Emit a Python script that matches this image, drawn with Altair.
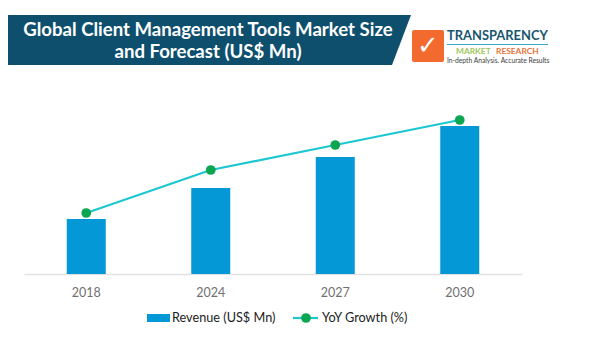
import altair as alt
import pandas as pd

years = ["2018", "2024", "2027", "2030"]
revenue = [55, 86, 117, 148]
growth = [61, 104, 129, 154]
legend_bar = "Revenue (US$ Mn)"
legend_line = "YoY Growth (%)"
title_lines = ["Global Client Management Tools Market Size", "and Forecast (US$ Mn)"]

W, H = 589, 340
df = pd.DataFrame({"year": years, "revenue": revenue, "growth": growth})

xs = alt.Scale(domain=years, range=[16, 514], paddingInner=0, paddingOuter=0)
ys = alt.Scale(domain=[0, 266], range=[266, 0])
x_enc = alt.X("year:N", scale=xs, sort=None, title=None,
              axis=alt.Axis(labelAngle=0, offset=-74, ticks=False, grid=False, domainColor="#E2E2E2",
                            domainWidth=1.5, labelColor="#707070", labelFont="Lato", labelFontSize=12.5,
                            labelPadding=12))
y_enc = lambda f: alt.Y(f, scale=ys, axis=None, title=None)

base = alt.Chart(df)
bars = base.mark_bar(size=39, color="#0499D6").encode(x=x_enc, y=y_enc("revenue:Q"))
line = base.mark_line(color="#1CC7CF", strokeWidth=2.2).encode(x=x_enc, y=y_enc("growth:Q"))
dots = base.mark_circle(color="#0DA650", size=95, opacity=1).encode(x=x_enc, y=y_enc("growth:Q"))
plot = alt.layer(bars, line, dots)

one = alt.Data(values=[{}])
def rect(x, y, x2, y2, color, **kw):
    return alt.Chart(one).mark_rect(color=color, **kw).encode(
        x=alt.value(x), x2=alt.value(x2), y=alt.value(y), y2=alt.value(y2))
def text(x, y, s, size, color, align="left", weight="normal", font="Lato", **kw):
    return alt.Chart(one).mark_text(fontSize=size, color=color, align=align, baseline="middle",
                                    fontWeight=weight, font=font, **kw).encode(
        x=alt.value(x), y=alt.value(y), text=alt.value(s))

# banner
px = alt.Scale(domain=[0, W], range=[0, W])
py = alt.Scale(domain=[0, H], range=[0, H])
banner = alt.Chart(pd.DataFrame({"x": [0, 0], "x2": [403, 384], "y": [7, 57]})).mark_area(
    orient="horizontal", color="#0E4F6E").encode(
    x=alt.X("x:Q", scale=px, axis=None), x2="x2:Q",
    y=alt.Y("y:Q", scale=py, axis=None))
t1 = text(200, 22, title_lines[0], 18.6, "white", "center", "bold")
t2 = text(200, 44, title_lines[1], 18.6, "white", "center", "bold")

# logo
logo = alt.layer(
    rect(404, 22, 436, 54, "#F26A2E", cornerRadius=2),
    text(420, 38, "✓", 26, "white", "center", font="DejaVu Sans"),
    text(439, 28, "TRANSPARENCY", 12.9, "#17566E", "left", "bold"),
    rect(439, 36, 540, 37, "#3BA7C9"),
    text(448, 43, "MARKET", 8.4, "#9CC75A", "left", "bold"),
    text(488, 43, "RESEARCH", 8.4, "#E8743B", "left", "bold"),
    text(439, 53, "In-depth Analysis. Accurate Results", 6.7, "#404040", "left"),
)

# legend
legend = alt.layer(
    rect(139, 306, 162, 314, "#0499D6"),
    text(164, 310, legend_bar, 12.7, "#222222", "left"),
    alt.Chart(one).mark_rule(color="#1CC7CF", strokeWidth=2.2).encode(
        x=alt.value(285), x2=alt.value(310), y=alt.value(310)),
    alt.Chart(one).mark_point(color="#0DA650", filled=True, size=95, opacity=1).encode(
        x=alt.value(298), y=alt.value(310)),
    text(314, 310, legend_line, 12.7, "#222222", "left"),
)

chart = alt.layer(banner, t1, t2, plot, logo, legend).resolve_scale(x="independent", y="independent").properties(
    width=W, height=H, padding=0, autosize=alt.AutoSizeParams(type="none"), background="white"
).configure_view(stroke=None)

chart.save("out.html", embed_options={"renderer": "svg", "actions": False})
